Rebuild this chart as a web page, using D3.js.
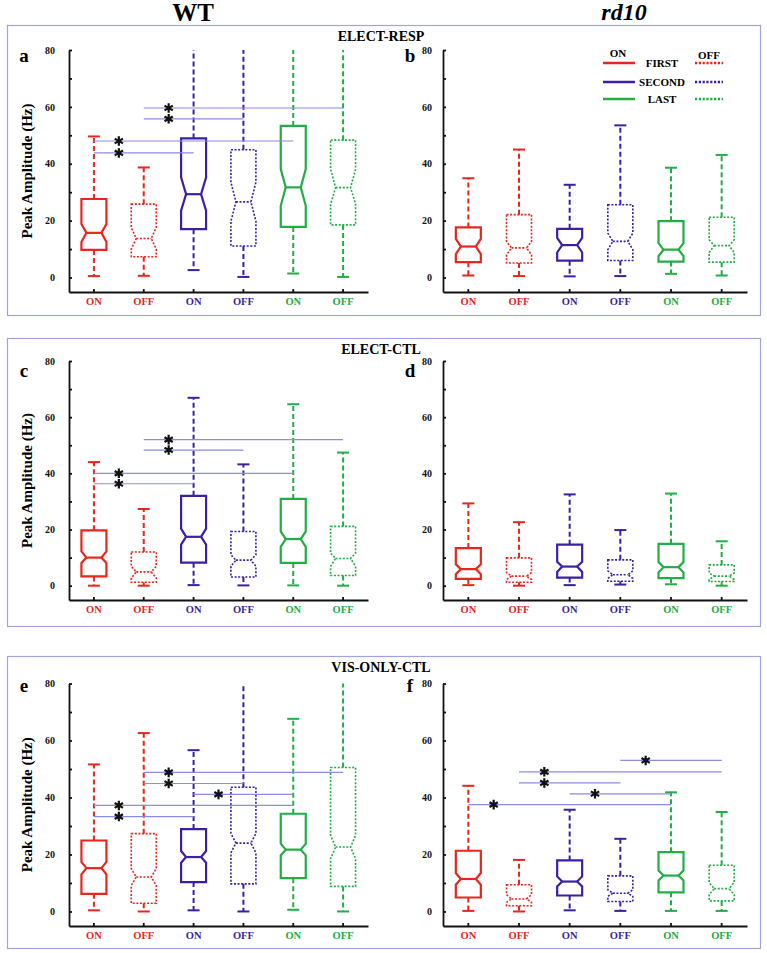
<!DOCTYPE html>
<html>
<head>
<meta charset="utf-8">
<script src="https://cdn.jsdelivr.net/npm/d3@7"></script>
<style>
  body { margin: 0; background: #fff; }
  text { font-family: "Liberation Serif", "Times New Roman", serif; font-weight: bold; }
</style>
</head>
<body>
<div id="chart"></div>
<script>
// --- DATA ---
const categories = ["ON", "OFF", "ON", "OFF", "ON", "OFF"];
const stimulus = ["FIRST", "FIRST", "SECOND", "SECOND", "LAST", "LAST"];
const yTicks = [0, 10, 20, 30, 40, 50, 60, 70, 80];
const genotypes = ["WT", "rd10"];
const conditions = ["ELECT-RESP", "ELECT-CTL", "VIS-ONLY-CTL"];

// each box: [low whisker, q1, notch low, median, notch high, q3, high whisker]
const boxesA = [
  [0.5, 9.7, 12.5, 15.7, 18.8, 27.6, 49.6],
  [0.6, 7.3, 10.0, 13.7, 17.6, 25.8, 38.7],
  [2.6, 17.0, 23.5, 29.3, 35.2, 48.9, 95],
  [0.2, 11.1, 19.8, 26.6, 33.5, 44.9, 95],
  [1.4, 17.8, 25.2, 31.7, 38.1, 53.3, 95],
  [0.2, 18.5, 25.8, 31.6, 38.1, 48.3, 95]
];
const boxesB = [
  [0.7, 5.4, 8.2, 10.9, 13.6, 17.6, 34.9],
  [0.5, 5.1, 8.0, 10.4, 12.7, 22.1, 45.0],
  [0.4, 5.9, 8.8, 11.4, 13.9, 17.1, 32.6],
  [0.5, 6.0, 9.8, 12.7, 15.6, 25.6, 53.5],
  [1.3, 5.6, 7.5, 9.8, 12.1, 19.8, 38.6],
  [0.7, 5.4, 8.8, 11.2, 13.3, 21.2, 43.1]
];
const boxesC = [
  [0.0, 3.3, 8.1, 10.0, 12.2, 19.7, 44.0],
  [0.0, 1.2, 2.7, 4.9, 6.9, 12.0, 27.3],
  [0.2, 8.2, 14.6, 17.4, 20.3, 32.0, 66.9],
  [0.1, 3.1, 6.9, 9.1, 11.0, 19.3, 43.2],
  [0.1, 8.1, 13.8, 16.6, 19.3, 30.9, 64.6],
  [0.0, 3.6, 6.9, 9.7, 11.6, 21.1, 47.4]
];
const boxesD = [
  [0.2, 2.4, 4.1, 5.9, 7.6, 13.4, 29.3],
  [0.0, 1.2, 2.2, 3.4, 4.7, 9.9, 22.6],
  [0.2, 2.9, 4.9, 6.8, 8.5, 14.6, 32.5],
  [0.4, 1.6, 2.6, 3.9, 5.3, 9.2, 19.8],
  [0.5, 2.7, 4.7, 6.6, 8.4, 14.9, 32.8],
  [0.0, 1.5, 2.2, 3.4, 4.5, 7.4, 15.8]
];
const boxesE = [
  [0.4, 6.2, 13.0, 15.2, 17.4, 24.9, 51.6],
  [0.0, 2.9, 9.1, 12.1, 15.0, 27.3, 62.6],
  [0.4, 10.3, 17.1, 19.1, 21.2, 28.9, 56.6],
  [0.0, 9.7, 20.6, 24.0, 27.4, 43.6, 95],
  [0.6, 11.7, 19.7, 21.7, 23.8, 34.3, 67.6],
  [0.0, 8.8, 18.5, 22.6, 26.7, 50.5, 95]
];
const boxesF = [
  [0.2, 4.9, 9.4, 11.4, 13.5, 21.3, 44.1],
  [0.0, 2.0, 3.2, 4.4, 5.9, 9.4, 18.1],
  [0.4, 5.6, 8.8, 10.5, 12.3, 17.9, 35.7],
  [0.2, 3.5, 5.3, 6.4, 7.6, 12.5, 25.5],
  [0.2, 6.7, 10.9, 12.6, 14.4, 20.8, 41.8],
  [0.2, 3.7, 5.9, 8.0, 10.2, 16.2, 34.9]
];

// significance bars: [from box, to box, height]
const sigA = [[1, 5, 59.6], [1, 3, 55.8], [0, 4, 48.0], [0, 2, 43.8]];
const sigB = [];
const sigC = [[1, 5, 52.0], [1, 3, 48.3], [0, 4, 40.0], [0, 2, 36.3]];
const sigD = [];
const sigE = [[1, 5, 48.8], [1, 3, 44.9], [2, 4, 41.1], [0, 4, 37.2], [0, 2, 33.3]];
const sigF = [[3, 5, 53.0], [1, 5, 49.0], [1, 3, 45.1], [2, 4, 41.3], [0, 4, 37.5]];

// --- LAYOUT ---
const width = 767, height = 953;
const rows = [
  { top: 25, bottom: 315, y80: 50, axisY: 292, letterY: 62 },
  { top: 338, bottom: 626, y80: 361, axisY: 600, letterY: 377 },
  { top: 656, bottom: 948, y80: 683.5, axisY: 926, letterY: 692 }
];
const cols = [
  { x0: 69, x1: 368, letterX: 24 },
  { x0: 443, x1: 747, letterX: 410 }
];
const yMin = -5.1, yMax = 80;

const panels = [
  { letter: "a", row: 0, col: 0, boxes: boxesA, sig: sigA },
  { letter: "b", row: 0, col: 1, boxes: boxesB, sig: sigB },
  { letter: "c", row: 1, col: 0, boxes: boxesC, sig: sigC },
  { letter: "d", row: 1, col: 1, boxes: boxesD, sig: sigD },
  { letter: "e", row: 2, col: 0, boxes: boxesE, sig: sigE },
  { letter: "f", row: 2, col: 1, boxes: boxesF, sig: sigF }
];

const color = d3.scaleOrdinal()
  .domain(["FIRST", "SECOND", "LAST"])
  .range(["#e8261c", "#3d1fa6", "#22ad45"]);
const sigColor = "#8c8ce0";

const svg = d3.select("#chart")
  .append("svg")
  .attr("width", width)
  .attr("height", height);

// --- FRAMES + CONDITION TITLES ---
rows.forEach((r, i) => {
  svg.append("rect")
    .attr("x", 7.5).attr("y", r.top + 0.5)
    .attr("width", 753).attr("height", r.bottom - r.top)
    .attr("fill", "none")
    .attr("stroke", "#a3a3dc")
    .attr("stroke-width", 1.2);

  svg.append("text")
    .attr("x", 381).attr("y", r.top + 16)
    .attr("text-anchor", "middle")
    .style("font-size", "14px")
    .text(conditions[i]);
});

// --- GENOTYPE TITLES ---
svg.append("text")
  .attr("x", 193).attr("y", 21)
  .attr("text-anchor", "middle")
  .style("font-size", "25px")
  .text(genotypes[0]);

svg.append("text")
  .attr("x", 624).attr("y", 20)
  .attr("text-anchor", "middle")
  .style("font-size", "24px")
  .style("font-style", "italic")
  .text(genotypes[1]);

// --- PANELS ---
const boxHalf = 12.5, notchInset = 5, capHalf = 6;

panels.forEach(p => {
  const r = rows[p.row], c = cols[p.col];
  const x = d3.scaleBand().domain(d3.range(categories.length)).range([c.x0, c.x1]);
  const y = d3.scaleLinear().domain([yMin, yMax]).range([r.axisY, r.y80]);
  const cx = i => x(i) + x.bandwidth() / 2;
  const g = svg.append("g");

  // y axis
  const yAxis = g.append("g")
    .attr("transform", `translate(${c.x0},0)`)
    .call(d3.axisLeft(y)
      .tickValues(yTicks)
      .tickSizeInner(-3)
      .tickSizeOuter(0)
      .tickPadding(p.col === 0 ? 14 : 11)
      .tickFormat(d => d % 20 === 0 ? d : ""));
  yAxis.selectAll("text").style("font-size", "10px").style("fill", "#111");
  yAxis.selectAll("line,path").attr("stroke", "#111").attr("stroke-width", 1.8);

  // x axis
  const xAxis = g.append("g")
    .attr("transform", `translate(0,${r.axisY})`)
    .call(d3.axisBottom(x)
      .tickSizeInner(-3)
      .tickSizeOuter(0)
      .tickPadding(6)
      .tickFormat(i => categories[i]));
  xAxis.selectAll("text")
    .style("font-size", "10.5px")
    .style("fill", i => color(stimulus[i]));
  xAxis.selectAll("line,path").attr("stroke", "#111").attr("stroke-width", 1.8);

  // panel letter
  g.append("text")
    .attr("x", c.letterX).attr("y", r.letterY)
    .attr("text-anchor", "middle")
    .style("font-size", "19px")
    .text(p.letter);

  // y label (left column only)
  if (p.col === 0) {
    g.append("text")
      .attr("transform", `translate(32,${(r.y80 + r.axisY) / 2}) rotate(-90)`)
      .attr("text-anchor", "middle")
      .style("font-size", "15px")
      .text("Peak Amplitude (Hz)");
  }

  // boxes
  p.boxes.forEach((b, i) => {
    const [lo, q1, nLo, med, nHi, q3, hi] = b;
    const col = color(stimulus[i]);
    const isOff = categories[i] === "OFF";
    const xc = cx(i), L = xc - boxHalf, R = xc + boxHalf;
    const dash = isOff ? "2,1.6" : null;
    const sw = isOff ? 1.6 : 2.2;

    // whiskers
    const top = Math.min(hi, yMax);
    g.append("line")
      .attr("x1", xc).attr("x2", xc)
      .attr("y1", y(q3)).attr("y2", y(top))
      .attr("stroke", col).attr("stroke-width", 2)
      .attr("stroke-dasharray", "5,3");
    g.append("line")
      .attr("x1", xc).attr("x2", xc)
      .attr("y1", y(q1)).attr("y2", y(lo))
      .attr("stroke", col).attr("stroke-width", 2)
      .attr("stroke-dasharray", "5,3");
    const caps = hi <= yMax ? [lo, hi] : [lo];
    caps.forEach(v => {
      g.append("line")
        .attr("x1", xc - capHalf).attr("x2", xc + capHalf)
        .attr("y1", y(v)).attr("y2", y(v))
        .attr("stroke", col).attr("stroke-width", 2);
    });

    // notched box
    const pts = [
      [L, y(q3)], [R, y(q3)], [R, y(nHi)], [R - notchInset, y(med)],
      [R, y(nLo)], [R, y(q1)], [L, y(q1)], [L, y(nLo)],
      [L + notchInset, y(med)], [L, y(nHi)]
    ];
    g.append("path")
      .attr("d", d3.line()(pts) + "Z")
      .attr("fill", "none")
      .attr("stroke", col)
      .attr("stroke-width", sw)
      .attr("stroke-dasharray", dash);
    g.append("line")
      .attr("x1", L + notchInset).attr("x2", R - notchInset)
      .attr("y1", y(med)).attr("y2", y(med))
      .attr("stroke", col)
      .attr("stroke-width", sw)
      .attr("stroke-dasharray", dash);
  });

  // significance bars
  p.sig.forEach(s => {
    const [from, to, v] = s;
    g.append("line")
      .attr("x1", cx(from)).attr("x2", cx(to))
      .attr("y1", y(v)).attr("y2", y(v))
      .attr("stroke", sigColor).attr("stroke-width", 1.2);
    g.append("path")
      .attr("d", d3.symbol(d3.symbolAsterisk, 64)())
      .attr("transform", `translate(${(cx(from) + cx(from + 1)) / 2},${y(v)})`)
      .attr("fill", "none")
      .attr("stroke", "#111")
      .attr("stroke-width", 2.2);
  });
});

// --- LEGEND (panel b) ---
const legend = svg.append("g");
legend.append("text").attr("x", 618).attr("y", 57)
  .attr("text-anchor", "middle").style("font-size", "11px").text("ON");
legend.append("text").attr("x", 709).attr("y", 59)
  .attr("text-anchor", "middle").style("font-size", "11px").text("OFF");
const legendY = [63, 82, 99];
color.domain().forEach((k, i) => {
  legend.append("line")
    .attr("x1", 603).attr("x2", 635)
    .attr("y1", legendY[i]).attr("y2", legendY[i])
    .attr("stroke", color(k)).attr("stroke-width", 2.5);
  legend.append("line")
    .attr("x1", 695).attr("x2", 723)
    .attr("y1", legendY[i]).attr("y2", legendY[i])
    .attr("stroke", color(k)).attr("stroke-width", 2.5)
    .attr("stroke-dasharray", "2.2,1.6");
  legend.append("text")
    .attr("x", 662).attr("y", legendY[i] + 4)
    .attr("text-anchor", "middle")
    .style("font-size", "11px")
    .text(k);
});
</script>
</body>
</html>
